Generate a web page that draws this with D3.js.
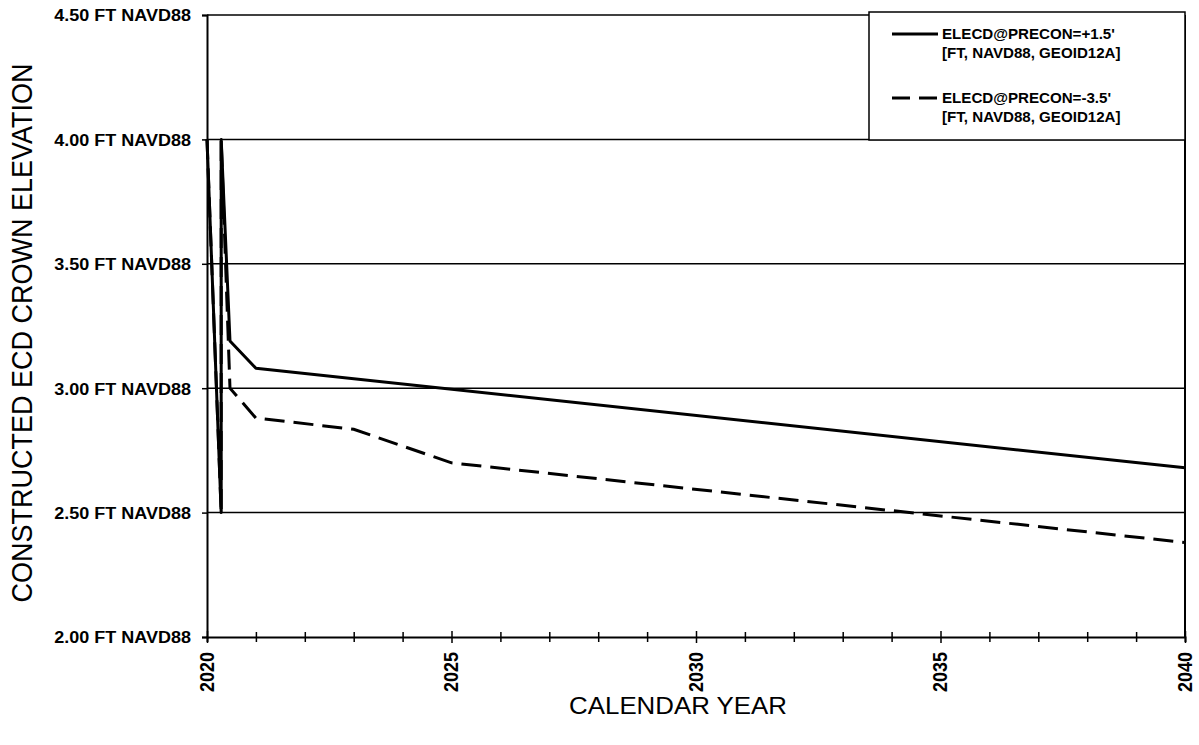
<html>
<head>
<meta charset="utf-8">
<style>
  body { margin: 0; background: #fff; }
  text { font-family: "Liberation Sans", Arial, sans-serif; fill: #000; }
</style>
</head>
<body>
<script src="https://d3js.org/d3.v7.min.js"></script>
<div id="chart"></div>
<script>
// data
var yearsSolid = [2020, 2020.29, 2020.29, 2020.47, 2021, 2040];
var elevSolid  = [4.00, 2.50, 4.00, 3.19, 3.08, 2.68];

var yearsDashed = [2020, 2020.29, 2020.29, 2020.47, 2021, 2023, 2025, 2040];
var elevDashed  = [4.00, 2.50, 4.00, 3.00, 2.88, 2.835, 2.70, 2.38];

var yTicks = [2.00, 2.50, 3.00, 3.50, 4.00, 4.50];
var xMajor = [2020, 2025, 2030, 2035, 2040];
var xMinor = d3.range(2020, 2041);

var legendLabels = [
  ["ELECD@PRECON=+1.5'", "[FT, NAVD88, GEOID12A]"],
  ["ELECD@PRECON=-3.5'", "[FT, NAVD88, GEOID12A]"]
];

var W = 1199, H = 745;
var plotLeft = 207, plotRight = 1185, plotTop = 15, plotBottom = 637;

var svg = d3.select("#chart").append("svg")
  .attr("width", W).attr("height", H);

var x = d3.scaleLinear().domain([2020, 2040]).range([plotLeft, plotRight]);
var y = d3.scaleLinear().domain([2.0, 4.5]).range([plotBottom, plotTop]);

// horizontal grid lines
svg.append("g").selectAll("line")
  .data(yTicks.slice(1))
  .enter().append("line")
  .attr("x1", plotLeft).attr("x2", plotRight)
  .attr("y1", function(d) { return y(d); })
  .attr("y2", function(d) { return y(d); })
  .attr("stroke", "#000").attr("stroke-width", 1.5);

// right border
svg.append("line")
  .attr("x1", plotRight).attr("x2", plotRight).attr("y1", plotTop).attr("y2", plotBottom)
  .attr("stroke", "#000").attr("stroke-width", 2);

// y axis
var yAxis = svg.append("g")
  .attr("transform", "translate(" + plotLeft + ",0)")
  .call(d3.axisLeft(y).tickValues(yTicks).tickSize(5).tickFormat(function(d) { return d.toFixed(2) + " FT NAVD88"; }));
yAxis.select(".domain").attr("stroke-width", 2);
yAxis.selectAll(".tick line").attr("stroke-width", 1.5);
yAxis.selectAll(".tick text")
  .attr("x", null).attr("dy", null)
  .attr("text-anchor", "end")
  .attr("dominant-baseline", "central")
  .style("font-size", "17px").style("font-weight", "bold")
  .attr("transform", "translate(-16,0) scale(1.06,1)");

// x axis, ticks cross the line
var xAxis = svg.append("g")
  .attr("transform", "translate(0," + plotBottom + ")")
  .call(d3.axisBottom(x).tickValues(xMinor).tickSize(5).tickFormat(function(d) { return xMajor.indexOf(d) >= 0 ? d : ""; }));
xAxis.select(".domain").attr("stroke-width", 2);
xAxis.selectAll(".tick line")
  .attr("y1", function(d) { return xMajor.indexOf(d) >= 0 ? -6 : -5; })
  .attr("y2", function(d) { return xMajor.indexOf(d) >= 0 ? 6 : 5; })
  .attr("stroke-width", 1.5);
xAxis.selectAll(".tick text")
  .attr("y", null).attr("dy", null)
  .attr("text-anchor", "end")
  .attr("dominant-baseline", "central")
  .style("font-size", "18px").style("font-weight", "bold")
  .attr("transform", "translate(-1,15) scale(1.15,1) rotate(-90)");

// series
function toPoints(xs, ys) { return xs.map(function(v, i) { return [v, ys[i]]; }); }
var line = d3.line().x(function(d) { return x(d[0]); }).y(function(d) { return y(d[1]); });

svg.append("path")
  .attr("d", line(toPoints(yearsSolid, elevSolid)))
  .attr("fill", "none").attr("stroke", "#000").attr("stroke-width", 3)
  .attr("stroke-linejoin", "round");

svg.append("path")
  .attr("d", line(toPoints(yearsDashed, elevDashed)))
  .attr("fill", "none").attr("stroke", "#000").attr("stroke-width", 3)
  .attr("stroke-dasharray", "20,9");

// legend
var lg = svg.append("g");
lg.append("rect")
  .attr("x", 869).attr("y", 12).attr("width", plotRight - 869).attr("height", 128)
  .attr("fill", "#fff").attr("stroke", "#000").attr("stroke-width", 1.5);

var legendY = [34, 98];
legendLabels.forEach(function(lab, i) {
  lg.append("line")
    .attr("x1", 892).attr("x2", 938)
    .attr("y1", legendY[i]).attr("y2", legendY[i])
    .attr("stroke", "#000").attr("stroke-width", 3)
    .attr("stroke-dasharray", i == 1 ? "18,9" : null);
  lab.forEach(function(t, j) {
    lg.append("text")
      .attr("transform", "translate(942," + (legendY[i] + 5 + j * 19) + ") scale(1.08,1)")
      .style("font-size", "14px").style("font-weight", "bold")
      .text(t);
  });
});

// axis titles
svg.append("text")
  .attr("transform", "translate(678,714) scale(1.1,1)")
  .attr("text-anchor", "middle")
  .style("font-size", "23.5px")
  .text("CALENDAR YEAR");

svg.append("text")
  .attr("transform", "translate(21,333) scale(1.12,1) rotate(-90)")
  .attr("text-anchor", "middle")
  .attr("dominant-baseline", "central")
  .style("font-size", "27px")
  .text("CONSTRUCTED ECD CROWN ELEVATION");
</script>
</body>
</html>
